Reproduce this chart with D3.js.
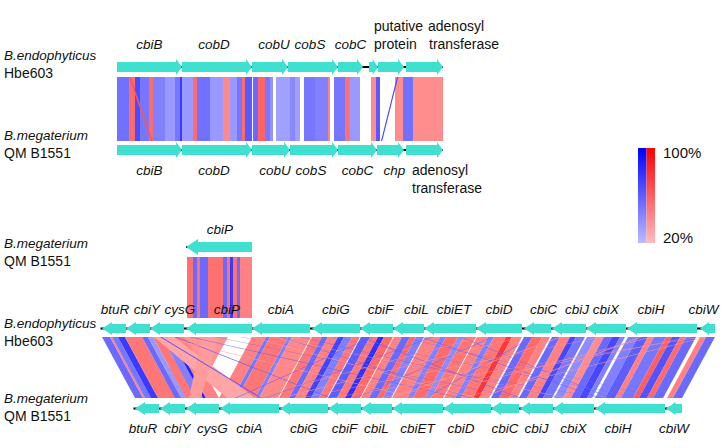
<!DOCTYPE html>
<html><head><meta charset="utf-8">
<script src="https://cdn.jsdelivr.net/npm/d3@7"></script>
<style>body{margin:0;background:#fff}</style>
</head><body>
<svg id="c" width="727" height="448"></svg>
<script>
// ===== DATA (positions in kb along each sequence) =====
// gene: [name, start, end, strand]
const topHbeGenes = [["cbiB",0,3.25,1],["cobD",3.25,6.75,1],["cobU",6.75,8.55,1],["cobS",8.55,11.05,1],["cobC",11.05,12.3,1],["",12.6,13.05,1],["putative protein",13.05,14.35,1],["adenosyl transferase",14.45,16.3,1]];
const topQMGenes = [["cbiB",0,3.25,1],["cobD",3.25,6.75,1],["cobU",6.75,8.65,1],["cobS",8.65,11.05,1],["cobC",11.05,13.0,1],["chp",13.0,14.35,1],["adenosyl transferase",14.45,16.3,1]];
// hit: [queryStart, queryEnd, subjectStart, subjectEnd, type (r = same / b = inverted), identity %]
const topHits = [
 [0,0.6,0,0.6,"b",52],[0.6,0.9,0.6,0.9,"r",55],[0.9,1.15,0.9,1.15,"b",68],[1.15,1.6,1.15,1.6,"b",50],
 [1.6,1.8,1.6,1.8,"r",55],[1.8,2.4,1.8,2.4,"b",45],[2.4,2.9,2.4,2.9,"b",35],[2.9,3.15,2.9,3.15,"b",50],
 [3.15,3.25,3.15,3.25,"b",75],[3.25,3.8,3.25,3.8,"b",35],[3.8,4.0,3.8,4.0,"r",55],[4.0,4.65,4.0,4.65,"b",52],
 [4.65,5.3,4.65,5.3,"b",35],[5.3,5.65,5.3,5.65,"r",42],[5.65,6.0,5.65,6.0,"b",35],[6.0,6.25,6.0,6.25,"b",50],
 [6.25,6.4,6.25,6.4,"r",55],[6.4,6.75,6.4,6.75,"b",62],[6.8,7.05,6.8,7.05,"b",55],[7.05,7.4,7.05,7.4,"r",58],
 [7.4,7.65,7.4,7.65,"b",50],[7.65,7.8,7.65,7.8,"b",38],[7.95,8.65,7.95,8.65,"b",32],[8.65,8.9,8.65,8.9,"b",42],
 [8.9,9.15,8.9,9.15,"b",32],[9.35,9.9,9.35,9.9,"b",50],[9.9,10.55,9.9,10.55,"b",45],[10.55,10.65,10.55,10.65,"r",45],
 [10.85,11.4,10.85,11.4,"b",50],[11.4,11.65,11.4,11.65,"r",52],[11.65,12.15,11.65,12.15,"b",35],
 [12.7,12.95,12.7,12.95,"r",40],[12.95,13.15,12.95,13.15,"b",62],[13.9,14.3,13.9,14.3,"r",40],
 [14.3,14.8,14.3,14.8,"b",52],[14.8,16.3,14.8,16.3,"r",40],
 [0.6,0.68,1.7,1.78,"r",65],[14.0,14.06,13.2,13.26,"b",70]
];
const cbiPGenes = [["cbiP",0,3.3,-1]];
const midGenes = [["btuR",0,1.2,-1],["cbiY",1.2,2.4,-1],["cysG",2.4,4.1,-1],["cbiP",4.2,7.5,-1],["cbiA",7.5,10.4,-1],["cbiG",10.5,12.9,-1],["cbiF",12.9,14.55,-1],["cbiL",14.55,16.1,-1],["cbiET",16.1,18.7,-1],["cbiD",18.7,21.0,-1],["cbiC",21.1,22.45,-1],["cbiJ",22.5,24.2,-1],["cbiX",24.2,26.2,-1],["cbiH",26.25,29.75,-1],["cbiW",29.9,30.65,-1]];
const botGenes = [["btuR",0,1.2,-1],["cbiY",1.25,2.5,-1],["cysG",2.55,4.2,-1],["cbiA",4.25,7.2,-1],["cbiG",7.25,9.65,-1],["cbiF",9.65,11.3,-1],["cbiL",11.3,12.85,-1],["cbiET",12.85,15.4,-1],["cbiD",15.4,17.8,-1],["cbiC",17.8,19.2,-1],["cbiJ",19.25,20.9,-1],["cbiX",20.9,22.95,-1],["cbiH",23.0,26.5,-1],["cbiW",26.55,27.35,-1]];
const cbiPHits = [
 [0.05,0.35,4.25,4.55,"r",52],[0.35,0.55,4.55,4.75,"b",55],[0.55,0.7,4.75,4.9,"r",52],[0.7,1.1,4.9,5.3,"b",55],
 [1.1,1.85,5.3,6.05,"r",52],[1.85,2.05,6.05,6.25,"b",55],[2.05,2.2,6.25,6.4,"r",52],[2.2,2.35,6.4,6.55,"b",75],
 [2.35,2.55,6.55,6.75,"r",52],[2.55,2.7,6.75,6.9,"b",55],[2.7,3.3,6.9,7.5,"r",45]
];
const cbiHits = [
 [4.2,6.3,1.0,3.0,"r",38],
 [0,0.4,0,0.4,"b",55],[0.4,0.5,0.4,0.5,"r",45],[0.5,0.8,0.5,0.8,"b",50],[0.8,1.15,0.8,1.15,"b",75],
 [1.15,2.0,1.15,2.0,"r",50],[2.0,2.3,2.0,2.3,"b",55],[2.3,2.55,2.3,2.55,"b",35],[2.55,3.0,2.55,3.0,"r",50],
 [3.0,3.4,3.0,3.4,"b",45],[3.4,3.55,3.4,3.55,"b",85],[3.55,4.15,3.55,4.2,"r",45],
 [7.5,8.2,4.2,4.9,"r",45],[8.2,8.4,4.9,5.1,"b",50],[8.4,9.3,5.1,6.0,"r",50],[9.3,9.5,6.0,6.2,"b",45],
 [9.5,10.45,6.2,7.15,"r",42],[10.5,11.0,7.2,7.7,"r",50],[11.0,11.3,7.7,8.0,"b",55],[11.3,11.8,8.0,8.5,"r",45],
 [11.8,12.1,8.5,8.8,"b",72],[12.1,12.5,8.8,9.2,"b",45],[12.5,12.9,9.2,9.6,"r",50],[12.95,13.4,9.65,10.1,"b",60],
 [13.4,13.8,10.1,10.5,"r",50],[13.8,14.1,10.5,10.8,"b",80],[14.1,14.55,10.8,11.25,"r",55],[14.6,15.0,11.3,11.7,"r",45],
 [15.0,15.4,11.7,12.1,"b",55],[15.4,15.7,12.1,12.4,"r",55],[15.7,16.1,12.4,12.8,"b",45],[16.15,16.9,12.85,13.6,"r",45],
 [16.9,17.2,13.6,13.9,"b",45],[17.2,17.8,13.9,14.5,"r",55],[17.8,18.1,14.5,14.8,"b",40],[18.1,18.7,14.8,15.4,"r",50],
 [18.75,19.3,15.45,16.0,"r",45],[19.3,19.6,16.0,16.3,"b",45],[19.6,20.2,16.3,16.9,"r",50],[20.2,20.5,16.9,17.2,"r",78],
 [20.5,21.0,17.2,17.7,"r",45],[21.1,21.5,17.8,18.2,"b",55],[21.5,22.0,18.2,18.7,"r",55],[22.0,22.4,18.7,19.1,"r",45],
 [22.5,22.9,19.2,19.6,"b",55],[22.9,23.4,19.6,20.1,"r",45],[23.4,23.7,20.1,20.4,"b",70],[23.7,24.15,20.4,20.85,"b",50],
 [24.25,24.7,20.95,21.4,"b",40],[24.7,25.1,21.4,21.8,"r",40],[25.1,25.5,21.8,22.2,"b",55],[25.5,25.9,22.2,22.6,"b",70],
 [25.9,26.15,22.6,22.85,"b",45],[26.3,26.8,23.0,23.5,"b",45],[26.8,27.3,23.5,24.0,"b",60],[27.3,27.6,24.0,24.3,"r",45],
 [27.6,28.2,24.3,24.9,"b",50],[28.2,28.5,24.9,25.2,"r",60],[28.5,28.9,25.2,25.6,"b",65],[28.9,29.2,25.6,25.9,"r",55],
 [29.2,29.7,25.9,26.4,"b",55],[29.9,30.2,26.6,26.9,"r",45],[30.2,30.65,26.9,27.35,"b",55]
];
const cbiCrossHits = [
 [2.6,3.6,4.6,6.0,"r",30],[5.0,5.8,2.7,3.3,"r",34],
 [3.65,3.73,9.75,9.83,"b",60],[4.4,4.48,16.25,16.33,"b",60],[5.65,5.72,19.25,19.32,"b",60],[6.9,6.97,23.25,23.32,"b",60],
 [8.9,8.98,16.75,16.83,"b",55],[9.9,9.97,21.25,21.32,"b",60],[11.4,11.47,25.25,25.32,"b",55],[12.9,12.97,19.25,19.32,"b",60],
 [14.9,14.97,26.25,26.32,"b",55],[15.9,15.97,23.25,23.32,"b",60],[2.9,2.98,6.25,6.33,"b",65],[17.9,17.97,23.75,23.82,"b",55],
 [13.5,13.56,5.0,5.06,"b",60],[16.5,16.56,6.5,6.56,"b",60],[19.5,19.56,11.0,11.06,"b",55],[21.5,21.56,14.5,14.56,"b",55],
 [29.4,29.5,12.25,12.35,"r",35],[29.9,30.0,9.75,9.85,"r",35],[27.4,27.5,14.25,14.35,"r",38],[24.9,25.0,8.25,8.35,"r",35],
 [22.9,23.0,12.75,12.85,"r",38],[20.9,21.0,7.25,7.35,"r",35],[18.9,19.0,5.75,5.85,"r",40],[26.9,27.0,17.25,17.35,"r",38],
 [30.15,30.25,16.25,16.35,"r",35],[7.4,7.5,17.0,17.1,"r",35],[8.5,8.6,21.5,21.6,"r",33],[3.0,3.1,14.0,14.1,"r",33]
];
const legendTicks = ["100%","20%"];
const identityDomain = [20,100];

// ===== LAYOUT =====
const FONT = "Liberation Sans";
const svg = d3.select("#c");
const PXKB = 20;
function trackScale(origin, maxKb){ return d3.scaleLinear().domain([0,maxKb]).range([origin, origin+maxKb*PXKB]); }
const blue = d3.scaleLinear().domain(identityDomain).range(["#bcbcff","#0000ff"]);
const red  = d3.scaleLinear().domain(identityDomain).range(["#ffbcbc","#ff0000"]);
const col = (t,id)=> t==="r"?red(id):blue(id);
function T(x,y,s,italic,anchor,size){
  return svg.append("text").attr("x",x).attr("y",y).attr("fill","#111")
    .attr("font-family",FONT).attr("font-size",size||14)
    .attr("font-style",italic?"italic":"normal").attr("text-anchor",anchor||"start").text(s);
}
function arrowPath(x1,x2,strand,cy,bodyH,headH,headL){
  const len=Math.abs(x2-x1), hl=Math.min(headL,len*0.6);
  const bt=cy-bodyH/2, bb=cy+bodyH/2, ht=cy-headH/2, hb=cy+headH/2;
  if(strand>0){ const xb=x2-hl; return `M${x1},${bt}L${xb},${bt}L${xb},${ht}L${x2},${cy}L${xb},${hb}L${xb},${bb}L${x1},${bb}Z`; }
  const xb=x1+hl; return `M${x2},${bt}L${xb},${bt}L${xb},${ht}L${x1},${cy}L${xb},${hb}L${xb},${bb}L${x2},${bb}Z`;
}
function drawTrack(genes, x, cy, opt){
  const g=svg.append("g");
  const lo=d3.min(genes,d=>d[1]), hi=d3.max(genes,d=>d[2]);
  g.append("line").attr("x1",x(lo)-(opt.bbL||0)).attr("x2",x(hi)+(opt.bbR||0)).attr("y1",cy).attr("y2",cy)
   .attr("stroke","#000").attr("stroke-width",2);
  g.selectAll("path").data(genes).join("path")
   .attr("d",d=>arrowPath(x(d[1]),x(d[2]),d[3],cy,opt.body,opt.head,opt.hl))
   .attr("fill","#40E0D0");
}
function drawHits(hits, xq, yq, xs, ys){
  svg.append("g").selectAll("path").data(hits).join("path")
   .attr("d",d=>`M${xq(d[0])},${yq}L${xq(d[1])},${yq}L${xs(d[3])},${ys}L${xs(d[2])},${ys}Z`)
   .attr("fill",d=>col(d[4],d[5]));
}
function labels(genes, x, y, nudge, skip){
  genes.forEach(d=>{
    if(!d[0]||(skip&&skip.includes(d[0]))) return;
    const n=(nudge&&nudge[d[0]])||0;
    T((x(d[1])+x(d[2]))/2+n, y, d[0], true, "middle", 13.5);
  });
}
function species(name, strain, y){ T(4,y,name,true,"start",13.5); T(4,y+18,strain,false,"start",14); }

// ---- upper panel ----
const xTop = trackScale(117, 16.4);
drawHits(topHits, xTop, 77, xTop, 141);
drawTrack(topHbeGenes, xTop, 67, {body:10, head:16, hl:6});
drawTrack(topQMGenes, xTop, 150, {body:10, head:16, hl:6});
labels(topHbeGenes, xTop, 49, {cobU:4, cobS:-3, cobD:-3}, ["putative protein","adenosyl transferase"]);
labels(topQMGenes, xTop, 175, {cobU:4, cobS:-3, cobD:-3, chp:4}, ["adenosyl transferase"]);
{
  const pp=topHbeGenes.find(d=>d[0]==="putative protein"), ad=topHbeGenes.find(d=>d[0]==="adenosyl transferase");
  const ppw=pp[0].split(" "), adw=ad[0].split(" ");
  T(xTop(pp[1])-4,31,ppw[0]); T(xTop(pp[1])-4,49,ppw[1]);
  T(xTop(ad[1])+22,31,adw[0]); T(xTop(ad[1])+23,49,adw[1]);
  const aq=topQMGenes.find(d=>d[0]==="adenosyl transferase");
  T(xTop(aq[1])+6,175,adw[0]); T(xTop(aq[1])+6,193,adw[1]);
}
species("B.endophyticus","Hbe603",60);
species("B.megaterium","QM B1551",140);

// ---- lower panel ----
const xP = trackScale(186, 3.4);
const xMid = trackScale(102, 30.7);
const xBot = trackScale(135, 27.4);
drawHits(cbiPHits, xP, 257, xMid, 318);
drawHits(cbiHits, xMid, 337, xBot, 398);
drawHits(cbiCrossHits, xMid, 337, xBot, 398);
drawTrack(cbiPGenes, xP, 247, {body:10, head:16, hl:12});
drawTrack(midGenes, xMid, 328.5, {body:9, head:13, hl:10, bbL:1.5});
drawTrack(botGenes, xBot, 408.5, {body:9, head:13, hl:10, bbL:1.5});
labels(cbiPGenes, xP, 234, {cbiP:1});
labels(midGenes, xMid, 314, {btuR:1,cbiY:9,cysG:13,cbiP:8,cbiF:4,cbiL:8,cbiET:4,cbiC:6,cbiJ:8,cbiH:-11,cbiW:-4});
labels(botGenes, xBot, 433, {cysG:10,cbiD:-6,cbiH:-12,btuR:-4,cbiY:5});
species("B.megaterium","QM B1551",248);
species("B.endophyticus","Hbe603",328);
species("B.megaterium","QM B1551",403);

// ---- legend ----
const defs=svg.append("defs");
[["gb",blue],["gr",red]].forEach(([id,sc])=>{
  const lg=defs.append("linearGradient").attr("id",id).attr("x1",0).attr("y1",0).attr("x2",0).attr("y2",1);
  lg.append("stop").attr("offset","0%").attr("stop-color",sc(identityDomain[1]));
  lg.append("stop").attr("offset","100%").attr("stop-color",sc(identityDomain[0]));
});
const ly = d3.scaleLinear().domain(identityDomain).range([243,148]);
svg.append("rect").attr("x",638).attr("y",ly(100)).attr("width",8.5).attr("height",ly(20)-ly(100)).attr("fill","url(#gb)");
svg.append("rect").attr("x",646.5).attr("y",ly(100)).attr("width",8.5).attr("height",ly(20)-ly(100)).attr("fill","url(#gr)");
T(663, ly(100)+10, legendTicks[0], false, "start", 15);
T(663, ly(20), legendTicks[1], false, "start", 15);
</script>
</body></html>
